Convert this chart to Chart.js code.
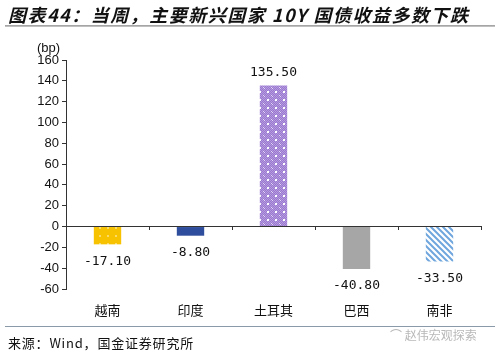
<!DOCTYPE html>
<html><head><meta charset="utf-8">
<script src="https://cdn.jsdelivr.net/npm/chart.js@4/dist/chart.umd.min.js"></script>
<style>
html,body{margin:0;padding:0;background:#fff;}
#wrap{position:relative;width:500px;height:357px;overflow:hidden;}
#c{position:absolute;left:0;top:0;}
.t{position:absolute;white-space:nowrap;}
#title{left:8px;top:1px;font:italic bold 18px "Noto Sans CJK SC";letter-spacing:1.5px;color:#111;}
#l1{position:absolute;left:5px;top:25px;width:490px;height:2px;background:linear-gradient(#999,#ccc);}
#l2{position:absolute;left:5px;top:326px;width:490px;height:1px;background:#8a9aa8;}
#src{left:8px;top:333px;font:13px "Noto Sans CJK SC";letter-spacing:0.8px;color:#111;}
#wm{left:390px;top:326px;font:12px "Noto Sans CJK SC";color:#b8b8b8;}
#bp{left:37px;top:40px;font:13px "Liberation Sans";color:#111;}
</style></head><body>
<div id="wrap">
<canvas id="c" width="500" height="357"></canvas>
<div class="t" id="title">图表44：当周，主要新兴国家 10Y 国债收益多数下跌</div>
<div id="l1"></div>
<div class="t" id="bp">(bp)</div>
<div id="l2"></div>
<div class="t" id="src">来源：Wind，国金证券研究所</div>
<div class="t" id="wm">⌒ 赵伟宏观探索</div>
</div>
<script>
const categories = ["越南","印度","土耳其","巴西","南非"];
const values = [-17.10, -8.80, 135.50, -40.80, -33.50];
const valueLabels = ["-17.10","-8.80","135.50","-40.80","-33.50"];

function mk(w,h,draw){const c=document.createElement('canvas');c.width=w;c.height=h;const x=c.getContext('2d');draw(x);return x.createPattern(c,'repeat');}
const pYellow=mk(8,8,x=>{x.fillStyle='#F7C200';x.fillRect(0,0,8,8);x.fillStyle='#fbdc6a';x.fillRect(3,3,2,2);});
const pPurple=mk(8,8,x=>{x.fillStyle='#9A78D0';x.fillRect(0,0,8,8);x.fillStyle='#b49be0';
  for(let i=0;i<8;i++)for(let j=0;j<8;j++){if((i+j)%2===0)x.fillRect(i,j,1,1);}
  x.fillStyle='#ffffff';x.fillRect(3,3,2,2);x.fillStyle='#e4d9f5';x.fillRect(7,7,1,1);x.fillRect(0,0,1,1);});
const pStripe=mk(6,6,x=>{x.fillStyle='#fff';x.fillRect(0,0,6,6);x.strokeStyle='#6FA6DD';x.lineWidth=2;
  x.beginPath();x.moveTo(0,0);x.lineTo(6,6);x.moveTo(-3,3);x.lineTo(3,9);x.moveTo(3,-3);x.lineTo(9,3);x.stroke();});
const colors=[pYellow,'#2E4D9C',pPurple,'#A6A6A6',pStripe];

const labelPlugin={id:'vl',afterDatasetsDraw(chart){
  const c=chart.ctx;const meta=chart.getDatasetMeta(0);
  c.save();c.font='13px "DejaVu Sans Mono"';c.fillStyle='#111';c.textAlign='center';c.textBaseline='middle';
  meta.data.forEach((b,i)=>{const v=values[i];const y=v>=0?b.y-13:b.y+17;c.fillText(valueLabels[i],b.x,y);});
  c.restore();}};

new Chart(document.getElementById('c'),{
  type:'bar',
  data:{labels:categories,datasets:[{data:values,backgroundColor:colors,borderWidth:0,barPercentage:0.33,categoryPercentage:1}]},
  options:{responsive:false,animation:false,
    layout:{padding:{left:0,right:19,top:60,bottom:0}},
    plugins:{legend:{display:false},tooltip:{enabled:false}},
    scales:{
      x:{position:'bottom',grid:{display:false},border:{display:false},
        ticks:{padding:5,font:{family:'Noto Sans CJK SC',size:13},color:'#111'},
        afterFit(s){s.height=68;}},
      x2:{type:'category',labels:categories,position:{y:0},offset:true,
        grid:{offset:true,drawOnChartArea:false,drawTicks:true,tickLength:3,color:'#333'},
        border:{display:true,color:'#333',width:1},ticks:{display:false}},
      y:{min:-60,max:160,
        ticks:{stepSize:20,padding:3,font:{family:'Liberation Sans',size:13},color:'#111'},
        grid:{drawOnChartArea:false,drawTicks:true,tickLength:4,color:'#333'},
        border:{display:true,color:'#333',width:1},
        afterFit(s){s.width=66;}}
    }},
  plugins:[labelPlugin]
});
</script>
</body></html>
